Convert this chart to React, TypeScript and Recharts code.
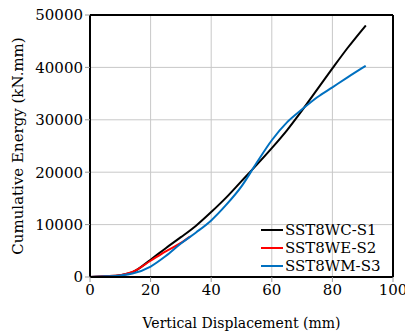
import { LineChart, Line, XAxis, YAxis, CartesianGrid, ReferenceLine } from 'recharts'

// x: vertical displacement (mm), y: cumulative energy (kN.mm)
const wcDisp = [0, 5, 10, 14, 20, 25, 30, 35, 40, 45, 50, 55, 60, 65, 70, 75, 80, 85, 91]
const wcEnergy = [0, 150, 350, 900, 3300, 5500, 7600, 9800, 12400, 15200, 18300, 21400, 24600, 28000, 31800, 35800, 39800, 43700, 48000]

const weDisp = [0, 5, 10, 14, 20, 25, 30, 33]
const weEnergy = [0, 150, 350, 950, 3100, 4900, 6500, 7700]

const wmDisp = [0, 5, 10, 14, 20, 25, 30, 35, 40, 45, 50, 55, 60, 65, 70, 75, 80, 85, 91]
const wmEnergy = [0, 120, 300, 650, 2000, 4000, 6400, 8500, 10800, 13800, 17300, 21800, 26100, 29500, 32000, 34300, 36200, 38100, 40300]

const xTicks = [0, 20, 40, 60, 80, 100]
const yTicks = [0, 10000, 20000, 30000, 40000, 50000]

const zip = (xs: number[], ys: number[]) => xs.map((x, i) => ({ x, y: ys[i] }))

const series = [
    { name: 'SST8WC-S1', color: '#000000', data: zip(wcDisp, wcEnergy) },
    { name: 'SST8WE-S2', color: '#ff0000', data: zip(weDisp, weEnergy) },
    { name: 'SST8WM-S3', color: '#0070c0', data: zip(wmDisp, wmEnergy) },
]

const font = 'DejaVu Serif'

function LegendBox() {
    return (
        <div style={{ position: 'absolute', left: 261, top: 221, fontFamily: font, fontSize: 15, color: '#000', lineHeight: '18px' }}>
            {series.map(s => (
                <div key={s.name} style={{ display: 'flex', alignItems: 'center' }}>
                    <div style={{ width: 22, height: 2, background: s.color, marginRight: 2 }} />
                    <span>{s.name}</span>
                </div>
            ))}
        </div>
    )
}

export default function App() {
    return (
        <div style={{ position: 'absolute', left: 0, top: 0, width: 405, height: 333, background: '#fff', fontFamily: font }}>
            <LineChart width={405} height={333} margin={{ top: 15, right: 12, bottom: 0, left: 0 }} style={{ fontFamily: font }}>
                <CartesianGrid stroke="#c8c8c8" strokeWidth={1} />
                <XAxis
                    type="number"
                    dataKey="x"
                    domain={[0, 100]}
                    ticks={xTicks}
                    height={56}
                    axisLine={{ stroke: '#000', strokeWidth: 2 }}
                    tickLine={{ stroke: '#999' }}
                    tickSize={5}
                    tick={{ fill: '#000', fontSize: 15, fontFamily: font }}
                    label={{ value: 'Vertical Displacement (mm)', position: 'insideBottom', offset: 5, fill: '#000', fontSize: 14, fontFamily: font }}
                />
                <YAxis
                    type="number"
                    domain={[0, 50000]}
                    ticks={yTicks}
                    width={90}
                    axisLine={{ stroke: '#000', strokeWidth: 2 }}
                    tickLine={{ stroke: '#999' }}
                    tickSize={5}
                    tick={{ fill: '#000', fontSize: 15, fontFamily: font }}
                    label={{ value: 'Cumulative Energy (kN.mm)', angle: -90, position: 'insideLeft', offset: 18, style: { textAnchor: 'middle' }, fill: '#000', fontSize: 15, fontFamily: font }}
                />
                <ReferenceLine y={50000} stroke="#000" strokeWidth={2} ifOverflow="visible" />
                <ReferenceLine x={100} stroke="#000" strokeWidth={2} ifOverflow="visible" />
                {series.map(s => (
                    <Line
                        key={s.name}
                        data={s.data}
                        dataKey="y"
                        name={s.name}
                        type="monotone"
                        stroke={s.color}
                        strokeWidth={2}
                        dot={false}
                        isAnimationActive={false}
                    />
                ))}
            </LineChart>
            <LegendBox />
        </div>
    )
}
